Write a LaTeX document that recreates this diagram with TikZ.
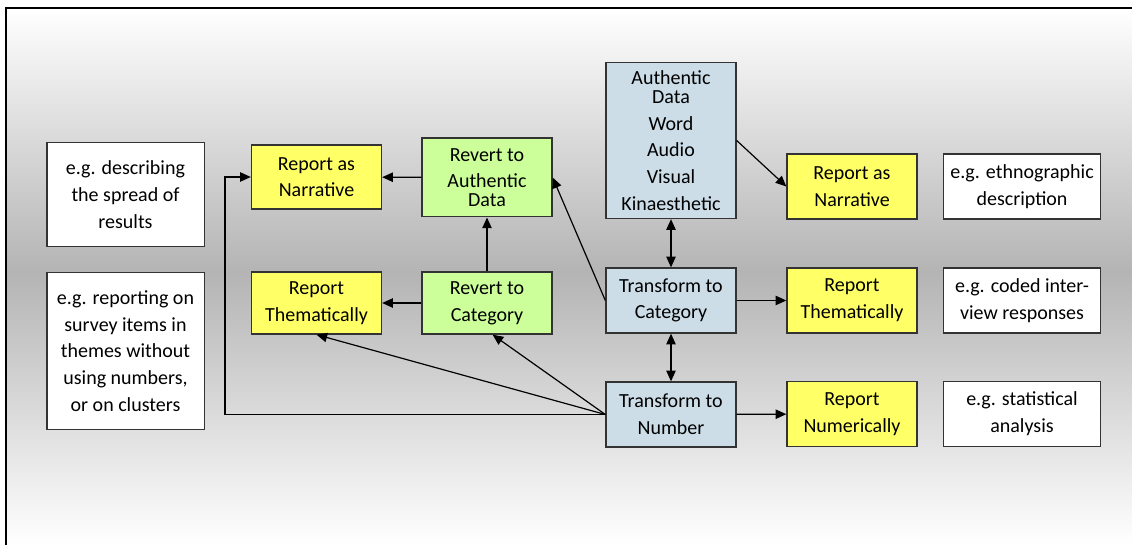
\documentclass[tikz,border=0pt]{standalone}
\usepackage{fontspec}
\setmainfont{Carlito}
\usetikzlibrary{arrows.meta}

\definecolor{reportyellow}{RGB}{255,255,102}
\definecolor{revertgreen}{RGB}{204,255,153}
\definecolor{datablue}{RGB}{204,221,232}
\definecolor{midgray}{RGB}{180,180,180}

\begin{document}
\begin{tikzpicture}[x=0.75pt, y=-0.75pt,
    box/.style={draw=black!80, line width=1pt, align=center, inner sep=2pt,
                font=\fontsize{15}{20}\selectfont},
    reportbox/.style={box, fill=reportyellow, minimum width=97.5pt, minimum height=48.75pt},
    revertbox/.style={box, fill=revertgreen, minimum width=97.5pt, minimum height=46.5pt},
    databox/.style={box, fill=datablue, minimum width=97.5pt, minimum height=48.75pt},
    notebox/.style={box, fill=white, minimum width=118pt, minimum height=48.75pt},
    arr/.style={line width=0.9pt, -{Triangle[length=8pt,width=7pt]}},
    dblarr/.style={line width=0.9pt, {Triangle[length=8pt,width=7pt]}-{Triangle[length=8pt,width=7pt]}}]

  \useasboundingbox (0,0) rectangle (1132,545);

  % background and frame
  \shade[top color=white, bottom color=midgray] (6,8) rectangle (1132,272);
  \shade[top color=midgray, bottom color=white] (6,272) rectangle (1132,545);
  \draw[line width=1.2pt] (6,545) -- (6,8) -- (1132,8);

  % left column: examples
  \node at (125.5,194.5) [notebox, minimum height=78pt] (ex1) {e.g. describing\\the spread of\\results};
  \node at (125.5,351) [notebox, minimum height=118pt] (ex2) {e.g. reporting on\\survey items in\\themes without\\using numbers,\\or on clusters};

  % reverting
  \node at (316.5,177) [reportbox, minimum height=48pt] (narrL) {Report as\\Narrative};
  \node at (316.5,303) [reportbox, minimum height=46.5pt] (themL) {Report\\Thematically};
  \node at (487,177.5) [revertbox, minimum height=59pt] (revAuth) {Revert to\\Authentic\\[-6pt]Data};
  \node at (487,303) [revertbox] (revCat) {Revert to\\Category};

  % transforming
  \node at (671,140.5) [databox, minimum height=117pt] (auth) {Authentic\\[-6pt]Data\\Word\\Audio\\Visual\\Kinaesthetic};
  \node at (671,300.5) [databox] (toCat) {Transform to\\Category};
  \node at (671,414.5) [databox] (toNum) {Transform to\\Number};

  % right column
  \node at (852,186.5) [reportbox] (narrR) {Report as\\Narrative};
  \node at (852,300.5) [reportbox] (themR) {Report\\Thematically};
  \node at (852,414) [reportbox] (numR) {Report\\Numerically};
  \node at (1022,186.5) [notebox] (ex3) {e.g. ethnographic\\description};
  \node at (1022,300.5) [notebox] (ex4) {e.g. coded inter-\\view responses};
  \node at (1022,414) [notebox] (ex5) {e.g. statistical\\analysis};

  \coordinate (bend) at (225,0);

  % connectors
  \draw[arr] (revAuth) -- (narrL);
  \draw[arr] (revCat) -- (themL);
  \draw[arr] (revCat) -- (revAuth);
  \draw[arr] (toCat.west) -- (revAuth.east);
  \draw[arr] (toNum.west) -- (themL.south);
  \draw[arr] (toNum.west) -- (revCat.-80);
  \draw[arr] (toNum.west) -| (bend |- narrL.west) -- (narrL.west);
  \draw[arr] (auth.east) -- (narrR.west);
  \draw[dblarr] (auth) -- (toCat);
  \draw[dblarr] (toCat) -- (toNum);
  \draw[arr] (toCat) -- (themR);
  \draw[arr] (toNum) -- (numR);
\end{tikzpicture}
\end{document}
